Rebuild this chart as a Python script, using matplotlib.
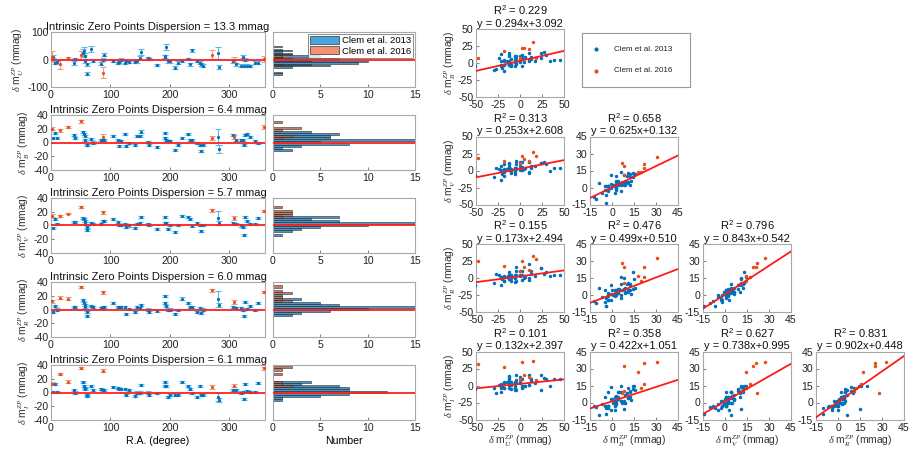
import numpy as np
import matplotlib
matplotlib.use("Agg")
import matplotlib.pyplot as plt
from matplotlib.patches import Patch

plt.rcParams['font.family'] = ['Liberation Sans', 'DejaVu Sans']
plt.rcParams['mathtext.fontset'] = 'custom'
plt.rcParams['mathtext.rm'] = 'Liberation Sans'
plt.rcParams['mathtext.it'] = 'Liberation Serif:italic'
plt.rcParams['mathtext.bf'] = 'Liberation Sans:bold'
plt.rcParams['axes.unicode_minus'] = False

# ---------------- data: Clem et al. 2013 (blue) ----------------
ra13 = [4, 6, 9.5, 39, 40, 54, 56, 57, 58, 60, 61, 68, 71, 84, 88, 89, 104, 113, 114, 118,
        124, 127, 132, 141, 145, 149, 151, 164, 165, 179, 191, 192, 194, 196, 201, 209, 214,
        220, 230, 234, 237, 246, 250, 253, 255, 281, 282, 307, 311, 320, 323, 325, 327, 329,
        334, 343, 348]
U13 = [10, -12, -10, -12, 2, 24, 30, 12, -6, -51, -18, 39, -4, -15, 0, 17, -4, -12, -10, 0,
       -12, -6, -10, -10, -6, 6, 27, 4, 2, -21, 10, 12, 46, -6, -6, -30, -12,
       -4, 2, -18, 34, -4, -12, -18, -22, 24, -27, -6, -18, -22, 10, -22, 0, -22,
       -24, -12, -12]
B13 = [6, 14, 6, 11, 7, 15, 12, 9, 4, -4, -3, 5, 0, 3, 4, 3, 10, 3, -5, 2,
       12, -5, -1, -3, 9, 9, 16, 1, -4, -7, 14, 6, 4, 2, 2, -11, -3,
       6, 12, 3, 3, -1, -3, -12, -3, 8, -9, 11, 4, 3, 3, -4, 11, 13,
       8, 2, -1]
V13 = [-3, 9, 2, 5, 5, 11, 9, 6, 4, -7, -2, 4, 2, 2, 6, 6, 10, 5, 1, 1,
       2, -2, 0, -3, 2, 4, 12, 2, 1, -5, 13, 4, 4, -5, 1, -10, 1,
       14, 12, 10, -1, 3, 1, -8, 1, 11, 4, 4, 2, 0, -2, -14, 13, 6,
       2, 2, 11]
R13 = [-3, 5, 0, 3, 4, 14, 9, 6, 3, -10, -4, 5, 4, 2, 3, 3, 10, 4, 4, 4,
       4, -6, 1, -4, 3, 2, 6, 0, -3, -2, 20, 10, 5, 0, 0, -7, -1,
       16, 10, 3, 3, -4, 2, -5, 0, 15, 6, 4, 2, 2, 0, -10, 11, 1,
       5, -1, 9]
I13 = [1, 12, 1, 4, 0, 15, 10, 7, 5, -5, -3, 9, 3, 5, 3, 3, 8, 6, 5, 5,
       5, -3, 3, -5, 0, 0, 11, 0, -3, -1, 15, 9, 9, -7, -3, -4, -3,
       15, 9, 5, -1, -7, 9, -3, -3, -6, -11, 4, 4, 0, 1, -10, 13, 2,
       1, 1, 14]
eU13 = [6, 5, 5, 8, 5, 14, 15, 12, 6, 6, 6, 10, 5, 5, 5, 5, 4, 4, 4, 4,
        5, 5, 4, 4, 5, 5, 10, 4, 4, 3, 6, 6, 12, 5, 5, 5, 5,
        5, 5, 5, 5, 5, 5, 4, 4, 22, 8, 5, 5, 5, 5, 5, 6, 6,
        5, 5, 5]
eB13 = [1.5] * 45 + [12, 6] + [1.5] * 10
eV13 = [1.5] * 45 + [10, 3] + [1.5] * 10
eR13 = [1.5] * 45 + [12, 3] + [1.5] * 10
eI13 = [1.5] * 45 + [6, 3] + [1.5] * 10

# ---------------- data: Clem et al. 2016 (orange) ----------------
ra16 = [2, 15, 28, 50, 87, 270, 308, 358]
U16 = [10, -18, 5, 15, -48, 18, 0, 2]
B16 = [20, 18, 22, 31, 8, 7, 8, 22]
V16 = [14, 14, 17, 27, 19, 22, 11, 21]
R16 = [12, 17, 16, 33, 25, 28, 11, 25]
I16 = [13, 27, 16, 36, 32, 8, 10, 35]
eU16 = [20, 18, 4, 15, 20, 15, 8, 12]
eB16 = [2, 2, 1.5, 2, 4, 3, 3, 3]
eV16 = [2, 1.5, 1, 1.5, 2, 2, 2.5, 1.5]
eR16 = [2, 2, 1.5, 1.5, 2, 2, 3, 1.5]
eI16 = [2, 2, 1.5, 1.5, 2, 3, 2, 2]

bands = ['U', 'B', 'V', 'R', 'I']
dispersion = ['13.3', '6.4', '5.7', '6.0', '6.1']

# regression results (row = y band B,V,R,I ; col = x band U,B,V,R)
r2 = {(0, 0): '0.229', (1, 0): '0.313', (1, 1): '0.658', (2, 0): '0.155', (2, 1): '0.476',
      (2, 2): '0.796', (3, 0): '0.101', (3, 1): '0.358', (3, 2): '0.627', (3, 3): '0.831'}
slope = {(0, 0): 0.294, (1, 0): 0.253, (1, 1): 0.625, (2, 0): 0.173, (2, 1): 0.499,
         (2, 2): 0.843, (3, 0): 0.132, (3, 1): 0.422, (3, 2): 0.738, (3, 3): 0.902}
inter = {(0, 0): 3.092, (1, 0): 2.608, (1, 1): 0.132, (2, 0): 2.494, (2, 1): 0.510,
         (2, 2): 0.542, (3, 0): 2.397, (3, 1): 1.051, (3, 2): 0.995, (3, 3): 0.448}

d13 = [U13, B13, V13, R13, I13]
d16 = [U16, B16, V16, R16, I16]
e13 = [eU13, eB13, eV13, eR13, eI13]
e16 = [eU16, eB16, eV16, eR16, eI16]

# ---------------- styling ----------------
W, H = 919, 450
BLUE = '#0072BD'
ORANGE = '#E8501A'
EBLUE = '#5BB8EA'
EORANGE = '#F29A7A'
HBLUE = '#3A8BC0'
HORANGE = '#B8674C'
SPINE = '#A8A8A8'
FS = 7.6
TFS = 8.0
LFS = 7.4

fig = plt.figure(figsize=(W / 100, H / 100), dpi=100)


def px(x0, y0, x1, y1):
    return [x0 / W, 1 - y1 / H, (x1 - x0) / W, (y1 - y0) / H]


def style(ax):
    for s in ax.spines.values():
        s.set_color(SPINE)
        s.set_linewidth(0.8)
    ax.tick_params(direction='in', length=2.5, width=0.6, color='#666666',
                   labelsize=FS, labelcolor='#222222')
    ax.tick_params(axis='x', pad=2.5)
    ax.tick_params(axis='y', pad=2.0)


def ylab(b):
    return r'$\delta$ m$^{ZP}_{' + b + '}$ (mmag)'


row_tops = [32, 115, 198, 282, 365]
for i, b in enumerate(bands):
    top = row_tops[i]
    ax = fig.add_axes(px(51, top, 265, top + 55))
    style(ax)
    ylim = 100 if i == 0 else 40
    ax.errorbar(ra13, d13[i], yerr=e13[i], fmt='.', color=BLUE, ms=2.6,
                ecolor=EBLUE, elinewidth=0.8, capsize=2, capthick=0.8, zorder=3)
    ax.errorbar(ra16, d16[i], yerr=e16[i], fmt='.', color=ORANGE, ms=2.6,
                ecolor=EORANGE, elinewidth=0.8, capsize=2, capthick=0.8, zorder=3)
    ax.axhline(0, color='#FF2020', lw=1.3, zorder=4)
    ax.set_xlim(0, 360)
    ax.set_ylim(-ylim, ylim)
    ax.set_xticks([0, 100, 200, 300])
    if i == 0:
        ax.set_yticks([-100, 0, 100])
    else:
        ax.set_yticks([-40, -20, 0, 20, 40])
    ax.set_title('Intrinsic Zero Points Dispersion = ' + dispersion[i] + ' mmag',
                 fontsize=TFS, pad=1.5, color='#111111')
    ax.set_ylabel(ylab(b), fontsize=LFS, labelpad=1, color='#333333')
    if i == 4:
        ax.set_xlabel('R.A. (degree)', fontsize=FS, labelpad=2)

    # histogram
    hx = fig.add_axes(px(273, top, 415, top + 55))
    style(hx)
    bw = 5 if i == 0 else 3
    bins = np.arange(-ylim, ylim + bw, bw)
    hx.hist(d13[i], bins=bins, orientation='horizontal', color=HBLUE, alpha=0.9,
            edgecolor='#1a1a1a', linewidth=0.4)
    hx.hist(d16[i], bins=bins, orientation='horizontal', color=HORANGE, alpha=0.85,
            edgecolor='#1a1a1a', linewidth=0.4)
    hx.axhline(0, color='#FF2020', lw=1.3, zorder=4)
    hx.set_xlim(0, 15)
    hx.set_ylim(-ylim, ylim)
    hx.set_xticks([0, 5, 10, 15])
    hx.set_yticks([])
    if i == 0:
        leg = hx.legend(handles=[Patch(facecolor='#4AA5DE', edgecolor='#333333', lw=0.5),
                                 Patch(facecolor='#F39372', edgecolor='#333333', lw=0.5)],
                        labels=['Clem et al. 2013', 'Clem et al. 2016'], loc='upper right',
                        fontsize=6.8, frameon=True, fancybox=False, borderpad=0.25,
                        handlelength=3.0, handleheight=0.9, handletextpad=0.3,
                        labelspacing=0.1, borderaxespad=0.2)
        leg.get_frame().set_edgecolor('#555555')
        leg.get_frame().set_linewidth(0.6)
    if i == 4:
        hx.set_xlabel('Number', fontsize=FS, labelpad=2)

# ---------------- scatter matrix ----------------
col_left = [476, 590, 703, 816]
row_top = [29, 136.5, 244, 351.5]
for r in range(4):
    for c in range(r + 1):
        ax = fig.add_axes(px(col_left[c], row_top[r], col_left[c] + 88, row_top[r] + 68))
        style(ax)
        xb, yb = c, r + 1
        ax.plot(d13[xb], d13[yb], '.', color=BLUE, ms=3, zorder=3)
        ax.plot(d16[xb], d16[yb], '.', color=ORANGE, ms=3, zorder=3)
        if c == 0:
            lim = (-50, 50)
            ticks = [-50, -25, 0, 25, 50]
        else:
            lim = (-15, 45)
            ticks = [-15, 0, 15, 30, 45]
        xx = np.array(lim, dtype=float)
        ax.plot(xx, slope[(r, c)] * xx + inter[(r, c)], color='#FF1A1A', lw=1.3, zorder=4)
        ax.set_xlim(*lim)
        ax.set_ylim(*lim)
        ax.set_xticks(ticks)
        ax.set_yticks(ticks)
        ax.set_title('R$^2$ = ' + r2[(r, c)] + '\ny = %.3fx+%.3f' % (slope[(r, c)], inter[(r, c)]),
                     fontsize=TFS, pad=1.5, linespacing=1.2, color='#111111')
        if c == 0:
            ax.set_ylabel(ylab(bands[yb]), fontsize=LFS, labelpad=0, color='#333333')
        if r == 3:
            ax.set_xlabel(ylab(bands[xb]), fontsize=LFS, labelpad=1, color='#333333')

# scatter legend box
lax = fig.add_axes(px(582, 33, 690, 87))
lax.set_xticks([])
lax.set_yticks([])
for s in lax.spines.values():
    s.set_color('#999999')
    s.set_linewidth(0.8)
lax.set_xlim(0, 1)
lax.set_ylim(0, 1)
lax.plot([0.13], [0.7], '.', color=BLUE, ms=4)
lax.plot([0.13], [0.3], '.', color=ORANGE, ms=4)
lax.text(0.3, 0.7, 'Clem et al. 2013', fontsize=5.8, va='center', ha='left', color='#222222')
lax.text(0.3, 0.3, 'Clem et al. 2016', fontsize=5.8, va='center', ha='left', color='#222222')

fig.savefig('out.png', dpi=100)
